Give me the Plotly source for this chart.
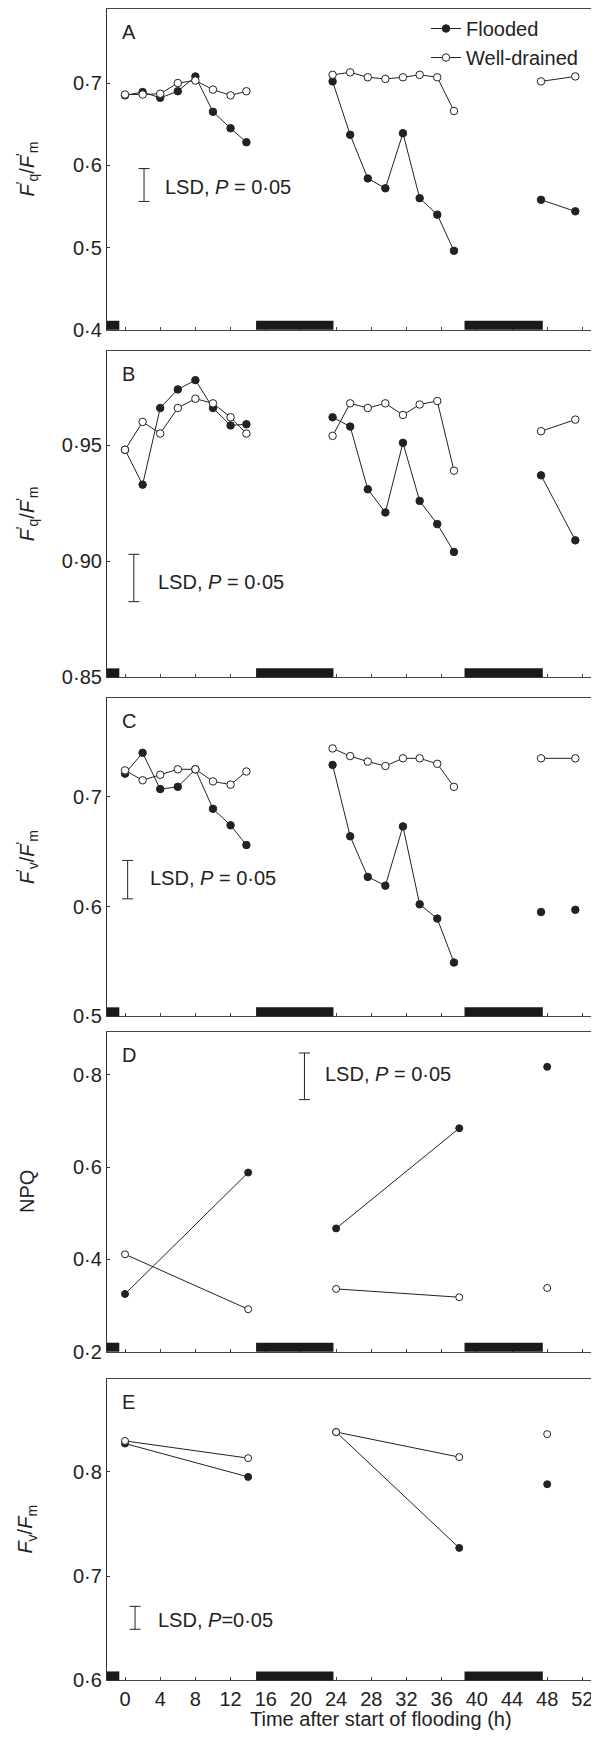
import plotly.graph_objects as go

# ---------------- data ----------------
t_day1 = [0, 2, 4, 6, 8, 10, 12, 13.8]
t_day2 = [23.6, 25.6, 27.6, 29.6, 31.6, 33.5, 35.5, 37.4]
t_day3 = [47.3, 51.2]

A_flooded_1 = [0.685, 0.689, 0.682, 0.690, 0.708, 0.665, 0.645, 0.628]
A_flooded_2 = [0.702, 0.637, 0.584, 0.572, 0.639, 0.560, 0.540, 0.496]
A_flooded_3 = [0.558, 0.544]
A_well_1 = [0.686, 0.686, 0.687, 0.700, 0.703, 0.692, 0.685, 0.690]
A_well_2 = [0.710, 0.713, 0.707, 0.705, 0.707, 0.710, 0.707, 0.666]
A_well_3 = [0.702, 0.708]

B_flooded_1 = [0.948, 0.933, 0.966, 0.974, 0.978, 0.966, 0.9585, 0.959]
B_flooded_2 = [0.962, 0.958, 0.931, 0.921, 0.951, 0.926, 0.916, 0.904]
B_flooded_3 = [0.937, 0.909]
B_well_1 = [0.948, 0.960, 0.955, 0.966, 0.970, 0.968, 0.962, 0.955]
B_well_2 = [0.954, 0.968, 0.966, 0.968, 0.963, 0.9675, 0.969, 0.939]
B_well_3 = [0.956, 0.961]

C_flooded_1 = [0.721, 0.740, 0.707, 0.709, 0.725, 0.689, 0.674, 0.656]
C_flooded_2 = [0.729, 0.664, 0.627, 0.619, 0.673, 0.602, 0.589, 0.549]
C_flooded_3 = [0.595, 0.597]
C_well_1 = [0.724, 0.715, 0.720, 0.725, 0.725, 0.714, 0.711, 0.723]
C_well_2 = [0.744, 0.737, 0.732, 0.728, 0.735, 0.735, 0.730, 0.709]
C_well_3 = [0.735, 0.735]

t_short_1 = [0, 14]
t_short_2 = [24, 38]
t_short_3 = [48]

D_flooded_1 = [0.325, 0.588]
D_flooded_2 = [0.467, 0.684]
D_flooded_3 = [0.817]
D_well_1 = [0.411, 0.292]
D_well_2 = [0.336, 0.318]
D_well_3 = [0.338]

E_flooded_1 = [0.827, 0.795]
E_flooded_2 = [0.838, 0.727]
E_flooded_3 = [0.788]
E_well_1 = [0.8295, 0.813]
E_well_2 = [0.838, 0.814]
E_well_3 = [0.836]

dark_start = [-2.2, 14.9, 38.6]
dark_end = [-0.65, 23.7, 47.5]

lsd_t = [2.16, 1.0, 0.3, 20.4, 1.14]
lsd_low = [0.556, 0.8826, 0.607, 0.746, 0.649]
lsd_high = [0.596, 0.903, 0.642, 0.847, 0.671]

x_ticks = list(range(0, 53, 4))
y_ticks = [[0.4, 0.5, 0.6, 0.7], [0.85, 0.90, 0.95], [0.5, 0.6, 0.7],
           [0.2, 0.4, 0.6, 0.8], [0.6, 0.7, 0.8]]
y_ticktext = [["0·4", "0·5", "0·6", "0·7"], ["0·85", "0·90", "0·95"],
              ["0·5", "0·6", "0·7"], ["0·2", "0·4", "0·6", "0·8"],
              ["0·6", "0·7", "0·8"]]
y_ranges = [[0.4, 0.79], [0.85, 0.9904], [0.5, 0.79], [0.2, 0.892], [0.6, 0.889]]
x_range = [-2.05, 54.8]
panel_letters = ["A", "B", "C", "D", "E"]
y_titles = ["<i>F</i><sup>'</sup><sub>q</sub>/<i>F</i><sup>'</sup><sub>m</sub>",
            "<i>F</i><sup>'</sup><sub>q</sub>/<i>F</i><sup>'</sup><sub>m</sub>",
            "<i>F</i><sup>'</sup><sub>v</sub>/<i>F</i><sup>'</sup><sub>m</sub>",
            "NPQ",
            "<i>F</i><sub>v</sub>/<i>F</i><sub>m</sub>"]
lsd_texts = ["LSD, <i>P</i> = 0·05"] * 4 + ["LSD, <i>P</i>=0·05"]
lsd_text_x = [4.36, 3.53, 2.58, 22.55, 3.53]
lsd_text_y = [0.573, 0.8912, 0.6256, 0.802, 0.658]

# ---------------- layout geometry ----------------
W, H = 599, 1744
OFF = 8  # page body margin
FONT = "Liberation Sans, Arial, sans-serif"
FS = 20
INK = "#222222"


def fx(px):
    return (px - OFF) / W


def fy(py):
    return 1 - (py - OFF) / H


panel_px = [(8, 331), (352.7, 681), (701.7, 1022.3), (1038.3, 1360), (1387.3, 1691)]
x_left_px = 107

panels = [
    dict(groups=[(t_day1, A_flooded_1, A_well_1, True, True),
                 (t_day2, A_flooded_2, A_well_2, True, True),
                 (t_day3, A_flooded_3, A_well_3, True, True)], msize=7.5),
    dict(groups=[(t_day1, B_flooded_1, B_well_1, True, True),
                 (t_day2, B_flooded_2, B_well_2, True, True),
                 (t_day3, B_flooded_3, B_well_3, True, True)], msize=7.5),
    dict(groups=[(t_day1, C_flooded_1, C_well_1, True, True),
                 (t_day2, C_flooded_2, C_well_2, True, True),
                 (t_day3, C_flooded_3, C_well_3, False, True)], msize=7.5),
    dict(groups=[(t_short_1, D_flooded_1, D_well_1, True, True),
                 (t_short_2, D_flooded_2, D_well_2, True, True),
                 (t_short_3, D_flooded_3, D_well_3, False, False)], msize=7),
    dict(groups=[(t_short_1, E_flooded_1, E_well_1, True, True),
                 (t_short_2, E_flooded_2, E_well_2, True, True),
                 (t_short_3, E_flooded_3, E_well_3, False, False)], msize=7),
]

fig = go.Figure()
layout = dict(width=W, height=H, margin=dict(l=0, r=0, t=0, b=0),
              paper_bgcolor="white", plot_bgcolor="white",
              font=dict(family=FONT, size=FS, color=INK),
              showlegend=True,
              legend=dict(x=418 / W, xanchor="left", y=1.0, yanchor="top",
                          bgcolor="rgba(0,0,0,0)", font=dict(size=FS, color=INK),
                          itemwidth=30, tracegroupgap=0))
shapes = []
annotations = []

for i, p in enumerate(panels):
    n = i + 1
    xa = "x" if n == 1 else f"x{n}"
    ya = "y" if n == 1 else f"y{n}"
    top, bot = panel_px[i]
    ms = p["msize"]
    first_f = True
    first_w = True
    for (tt, fv, wv, f_line, w_line) in p["groups"]:
        fig.add_trace(go.Scatter(
            x=tt, y=fv, xaxis=xa, yaxis=ya,
            mode="lines+markers" if f_line else "markers",
            line=dict(color=INK, width=1),
            marker=dict(symbol="circle", size=ms, color=INK,
                        line=dict(color=INK, width=1)),
            name="Flooded", legendgroup="f",
            showlegend=(n == 1 and first_f), cliponaxis=False))
        first_f = False
    for (tt, fv, wv, f_line, w_line) in p["groups"]:
        fig.add_trace(go.Scatter(
            x=tt, y=wv, xaxis=xa, yaxis=ya,
            mode="lines+markers" if w_line else "markers",
            line=dict(color=INK, width=1),
            marker=dict(symbol="circle", size=ms, color="white",
                        line=dict(color=INK, width=1)),
            name="Well-drained", legendgroup="w",
            showlegend=(n == 1 and first_w), cliponaxis=False))
        first_w = False

    # LSD bar
    mid = (lsd_low[i] + lsd_high[i]) / 2
    half = (lsd_high[i] - lsd_low[i]) / 2
    fig.add_trace(go.Scatter(
        x=[lsd_t[i]], y=[mid], xaxis=xa, yaxis=ya, mode="markers",
        marker=dict(size=1, color="rgba(0,0,0,0)"),
        error_y=dict(type="data", array=[half], visible=True,
                     thickness=1, width=5.5, color=INK),
        showlegend=False, hoverinfo="skip"))

    layout["xaxis" if n == 1 else f"xaxis{n}"] = dict(
        domain=[fx(x_left_px), 1.0], range=x_range,
        anchor=ya, showline=True, linecolor="#444444", linewidth=1.2,
        mirror=True, ticks="inside", ticklen=3, tickwidth=1, tickcolor="#444444",
        tickvals=x_ticks, showticklabels=(n == 5), showgrid=False, zeroline=False,
        ticklabeloverflow="allow",
        tickfont=dict(size=FS, color=INK))
    layout["yaxis" if n == 1 else f"yaxis{n}"] = dict(
        domain=[fy(bot), fy(top)], range=y_ranges[i],
        anchor=xa, showline=True, linecolor="#333333", linewidth=1.2,
        mirror=False, ticks="inside", ticklen=3, tickwidth=1, tickcolor="#333333",
        tickvals=y_ticks[i], ticktext=y_ticktext[i], showgrid=False, zeroline=False,
        tickfont=dict(size=FS, color=INK))

    # dark periods
    for s, e in zip(dark_start, dark_end):
        shapes.append(dict(type="rect", xref=xa, yref=f"{ya} domain",
                           x0=max(s, x_range[0]), x1=e, y0=0, y1=9,
                           ysizemode="pixel", yanchor=0,
                           fillcolor="#1a1a1a", line=dict(width=0), layer="above"))

    annotations.append(dict(text=panel_letters[i], xref=f"{xa} domain", yref=f"{ya} domain",
                            x=0.026, y=1, xanchor="left", yanchor="middle", yshift=-23,
                            showarrow=False, font=dict(size=FS, color=INK)))
    annotations.append(dict(text=y_titles[i], xref="paper", yref=f"{ya} domain",
                            x=fx(27), y=0.5, xanchor="center", yanchor="middle",
                            textangle=-90, showarrow=False, font=dict(size=FS, color=INK)))
    annotations.append(dict(text=lsd_texts[i], xref=xa, yref=ya,
                            x=lsd_text_x[i], y=lsd_text_y[i], xanchor="left",
                            yanchor="middle", showarrow=False,
                            font=dict(size=FS, color=INK)))

annotations.append(dict(text="Time after start of flooding (h)", xref="paper", yref="paper",
                        x=fx(381), y=fy(1730), xanchor="center", yanchor="middle",
                        showarrow=False, font=dict(size=FS, color=INK)))

layout["shapes"] = shapes
layout["annotations"] = annotations
fig.update_layout(**layout)
fig.write_html("out.html")
